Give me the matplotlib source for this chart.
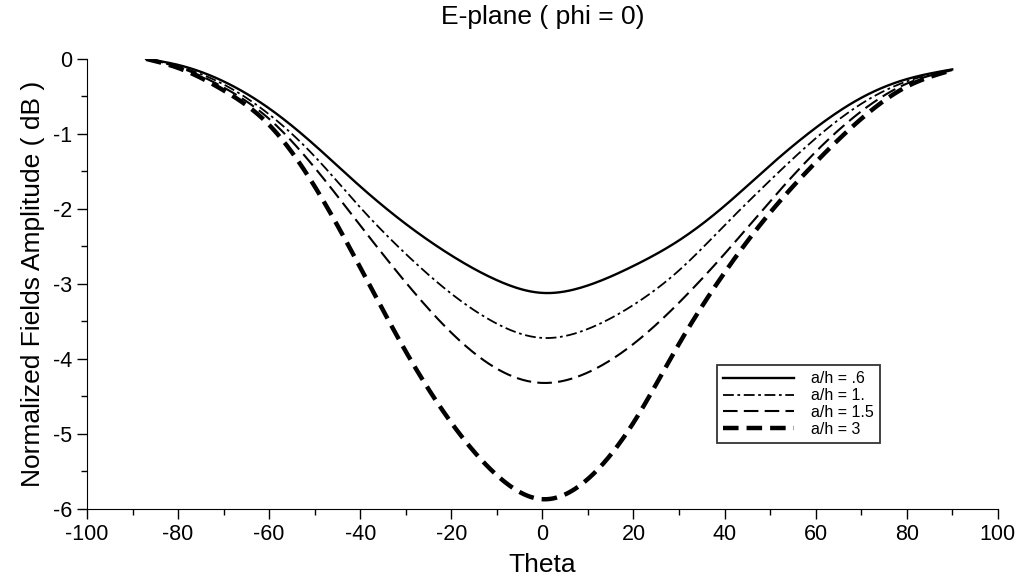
import numpy as np
import matplotlib
matplotlib.use('Agg')
import matplotlib.pyplot as plt
from matplotlib.ticker import MultipleLocator

plt.rcParams['font.family'] = ['Liberation Sans', 'DejaVu Sans']
plt.rcParams['axes.unicode_minus'] = False

# theta (deg) and normalized field amplitude (dB) for each a/h
theta = [-87, -80, -70, -60, -50, -40, -30, -20, -10, 0,
         10, 20, 30, 40, 50, 60, 70, 80, 90]
amp_06 = [0.0, -0.08, -0.30, -0.66, -1.15, -1.70, -2.20, -2.62, -2.95, -3.12,
          -3.02, -2.76, -2.42, -1.96, -1.42, -0.92, -0.52, -0.27, -0.14]
amp_1 = [0.0, -0.10, -0.34, -0.74, -1.30, -1.98, -2.60, -3.13, -3.53, -3.72,
         -3.60, -3.28, -2.82, -2.22, -1.62, -1.06, -0.60, -0.30, -0.14]
amp_15 = [0.0, -0.11, -0.38, -0.80, -1.45, -2.22, -2.98, -3.65, -4.13, -4.32,
          -4.18, -3.80, -3.25, -2.60, -1.90, -1.24, -0.70, -0.33, -0.15]
amp_3 = [0.0, -0.12, -0.42, -0.88, -1.70, -2.78, -3.90, -4.85, -5.55, -5.87,
         -5.60, -4.85, -3.80, -2.85, -2.05, -1.38, -0.80, -0.37, -0.15]
labels = ['a/h = .6', 'a/h = 1.', 'a/h = 1.5', 'a/h = 3']


def spline(x, y, n=500):
    # natural cubic spline through the read points (for drawing only)
    x = np.asarray(x, float)
    y = np.asarray(y, float)
    h = np.diff(x)
    m = len(x)
    A = np.zeros((m, m))
    b = np.zeros(m)
    A[0, 0] = A[-1, -1] = 1
    for i in range(1, m - 1):
        A[i, i - 1] = h[i - 1]
        A[i, i] = 2 * (h[i - 1] + h[i])
        A[i, i + 1] = h[i]
        b[i] = 6 * ((y[i + 1] - y[i]) / h[i] - (y[i] - y[i - 1]) / h[i - 1])
    M = np.linalg.solve(A, b)
    xs = np.linspace(x[0], x[-1], n)
    idx = np.clip(np.searchsorted(x, xs) - 1, 0, m - 2)
    x0, x1 = x[idx], x[idx + 1]
    hh = x1 - x0
    t0, t1 = x1 - xs, xs - x0
    ys = (M[idx] * t0 ** 3 + M[idx + 1] * t1 ** 3) / (6 * hh) \
        + (y[idx] / hh - M[idx] * hh / 6) * t0 \
        + (y[idx + 1] / hh - M[idx + 1] * hh / 6) * t1
    return xs, ys


fig = plt.figure(figsize=(10.28, 5.83), dpi=100)
ax = fig.add_axes([0.0846, 0.127, 0.886, 0.772])

styles = [dict(color='black', lw=1.7, ls='-'),
          dict(color='black', lw=1.3, ls=(0, (6, 2, 1.5, 2))),
          dict(color='black', lw=1.5, ls=(0, (7, 3))),
          dict(color='black', lw=3.2, ls=(0, (3.5, 1.8)))]

for y, lab, st in zip([amp_06, amp_1, amp_15, amp_3], labels, styles):
    xs, ys = spline(theta, y)
    ax.plot(xs, ys, label=lab, **st)

ax.set_xlim(-100, 100)
ax.set_ylim(-6, 0)
ax.xaxis.set_major_locator(MultipleLocator(20))
ax.xaxis.set_minor_locator(MultipleLocator(10))
ax.yaxis.set_major_locator(MultipleLocator(1))
ax.yaxis.set_minor_locator(MultipleLocator(0.5))
ax.spines['top'].set_visible(False)
ax.spines['right'].set_visible(False)
ax.tick_params(which='major', direction='out', length=7, width=1, labelsize=15.5)
ax.tick_params(which='minor', direction='out', length=4, width=1)
ax.set_xlabel('Theta', fontsize=19, labelpad=6)
ax.set_ylabel('Normalized Fields Amplitude ( dB )', fontsize=19, labelpad=6)
ax.set_title('E-plane ( phi = 0)', fontsize=19, pad=25)

leg = ax.legend(loc='lower left', bbox_to_anchor=(0.683, 0.128), fontsize=11.5,
                frameon=True, fancybox=False, edgecolor='black',
                handlelength=4.4, handletextpad=1.1, borderpad=0.4,
                labelspacing=0.12)
leg.get_frame().set_linewidth(1.3)

fig.savefig('out.png', dpi=100)
